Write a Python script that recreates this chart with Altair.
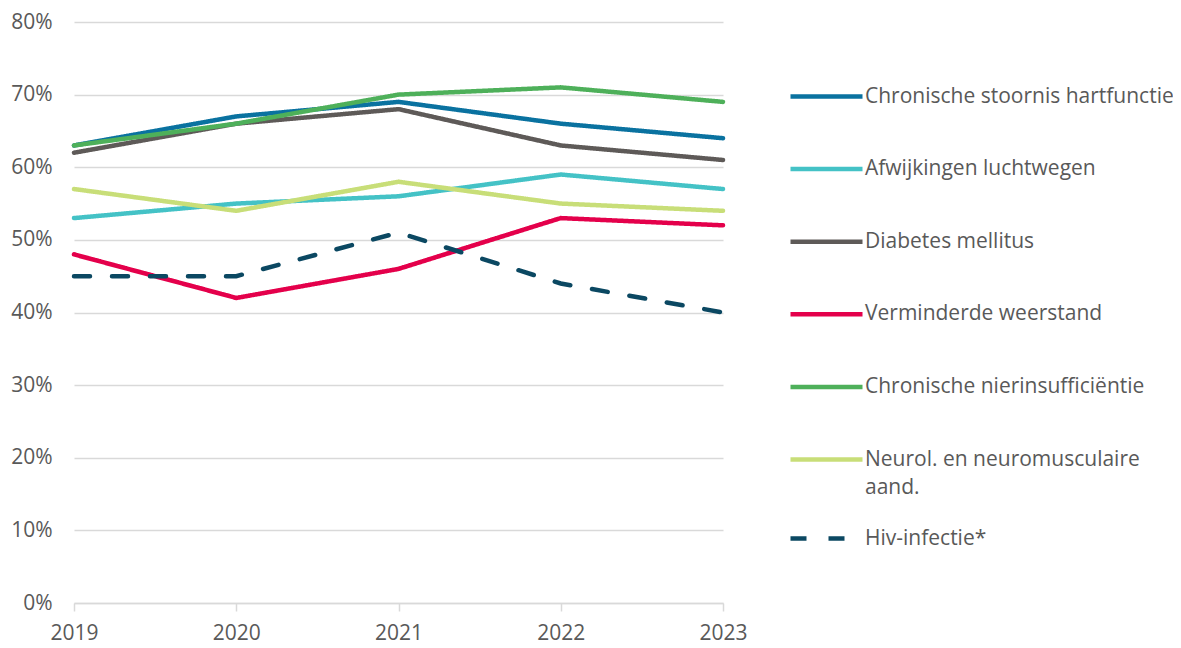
import altair as alt
import pandas as pd

years = [2019, 2020, 2021, 2022, 2023]
series_names = [
    "Chronische stoornis hartfunctie",
    "Afwijkingen luchtwegen",
    "Diabetes mellitus",
    "Verminderde weerstand",
    "Chronische nierinsufficiëntie",
    "Neurol. en neuromusculaire aand.",
    "Hiv-infectie*",
]
line_styles = ["doorgetrokken", "doorgetrokken", "doorgetrokken", "doorgetrokken",
               "doorgetrokken", "doorgetrokken", "Hiv-infectie*"]
hartfunctie = [63, 67, 69, 66, 64]
luchtwegen = [53, 55, 56, 59, 57]
diabetes = [62, 66, 68, 63, 61]
weerstand = [48, 42, 46, 53, 52]
nier = [63, 66, 70, 71, 69]
neurol = [57, 54, 58, 55, 54]
hiv = [45, 45, 51, 44, 40]
colors = ["#0A72A0", "#44C2C6", "#5E5A58", "#E4004B", "#4EB05A", "#C8DE78", "#0B4862"]
y_ticks = [0, 10, 20, 30, 40, 50, 60, 70, 80]

all_vals = [hartfunctie, luchtwegen, diabetes, weerstand, nier, neurol, hiv]
rows = []
for name, style, vals in zip(series_names, line_styles, all_vals):
    for yr, v in zip(years, vals):
        rows.append({"Jaar": yr, "Waarde": v, "Reeks": name, "Lijn": style})
df = pd.DataFrame(rows)

FONT = "Open Sans"
GRAY = "#595959"
FS = 21

common_legend = dict(title=None, orient="none", legendX=714,
                     symbolType="stroke", symbolSize=5184, symbolStrokeWidth=4.5,
                     labelFont=FONT, labelFontSize=FS, labelColor=GRAY,
                     labelOffset=0, rowPadding=23.6, labelLimit=400, padding=0)

chart = alt.Chart(df).mark_line(strokeWidth=4.5, strokeCap="round").encode(
    x=alt.X("Jaar:Q", scale=alt.Scale(domain=[2019, 2023], nice=False, zero=False),
            axis=alt.Axis(values=years, format="d", title=None, grid=False,
                          domainColor="#D9D9D9", domainWidth=1.5,
                          tickColor="#D9D9D9", tickWidth=1.5, tickSize=8,
                          labelFont=FONT, labelFontSize=FS, labelColor=GRAY,
                          labelPadding=11, labelFlush=False)),
    y=alt.Y("Waarde:Q", scale=alt.Scale(domain=[0, 80], nice=False),
            axis=alt.Axis(values=y_ticks, labelExpr="datum.value + '%'", title=None,
                          domain=False, ticks=False, gridColor="#D9D9D9", gridWidth=1.5,
                          labelFont=FONT, labelFontSize=FS, labelColor=GRAY,
                          labelPadding=22)),
    color=alt.Color("Reeks:N", sort=series_names,
                    scale=alt.Scale(domain=series_names, range=colors),
                    legend=alt.Legend(legendY=36, values=series_names[:6],
                                      labelExpr="datum.label == 'Neurol. en neuromusculaire aand.' ? ['Neurol. en neuromusculaire', 'aand.'] : datum.label",
                                      **common_legend)),
    strokeDash=alt.StrokeDash("Lijn:N",
                              scale=alt.Scale(domain=["doorgetrokken", "Hiv-infectie*"],
                                              range=[[1, 0], [16, 22]]),
                              legend=alt.Legend(legendY=478, values=["Hiv-infectie*"],
                                                symbolStrokeColor=colors[6], **common_legend)),
    order=alt.Order("Jaar:Q"),
).properties(
    width=649, height=581,
    autosize=alt.AutoSizeParams(type="none"),
    padding={"left": 66, "top": 14, "right": 450, "bottom": 44},
).configure(
    background="white",
    style={"guide-label": {"lineHeight": 28}},
).configure_view(strokeWidth=0)

chart.save("out.html", embed_options={"renderer": "svg", "actions": False})
